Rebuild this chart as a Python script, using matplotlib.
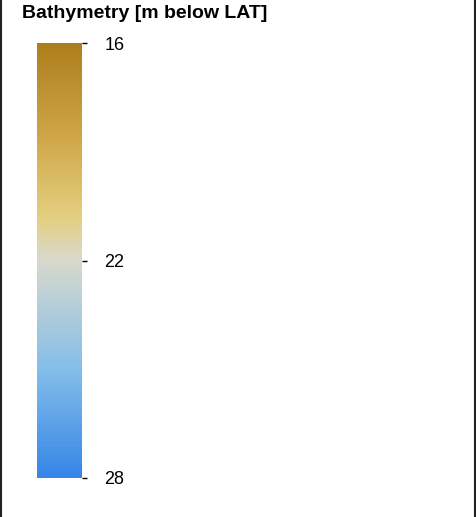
import numpy as np
import matplotlib
matplotlib.use("Agg")
from matplotlib import pyplot as plt
from matplotlib.colors import LinearSegmentedColormap, Normalize
from matplotlib.cm import ScalarMappable
from matplotlib.lines import Line2D

# legend content
title = "Bathymetry [m below LAT]"
depth_min, depth_max = 16, 28
tick_values = [16, 22, 28]
stop_positions = [0.0, 0.2, 0.4, 0.5, 0.75, 1.0]
stop_colors = ["#ad7e1c", "#cda344", "#e3cf80", "#d8d9cd", "#84bee9", "#3585e8"]

plt.rcParams['font.family'] = ['Liberation Sans', 'DejaVu Sans']

W, H = 477, 517
fig = plt.figure(figsize=(W / 100, H / 100), dpi=100)

# colour bar (shallow at top, deep at bottom)
cmap = LinearSegmentedColormap.from_list("bathy", list(zip(stop_positions, stop_colors)))
cax = fig.add_axes([37 / W, 1 - 478 / H, 45 / W, 435 / H])
sm = ScalarMappable(norm=Normalize(depth_min, depth_max), cmap=cmap)
cb = fig.colorbar(sm, cax=cax, ticks=tick_values)
cb.outline.set_visible(False)
cax.invert_yaxis()
cax.tick_params(axis='y', direction='out', length=3.6, width=1, pad=12.5,
                labelsize=13, colors='black')

fig.text(22 / W, 1 - 18.3 / H, title, fontsize=14, fontweight='bold',
         va='baseline', ha='left')

# frame lines on the left and right
for xp in (0.8 / W, 475.5 / W):
    fig.add_artist(Line2D([xp, xp], [0, 1], transform=fig.transFigure,
                          color='#222222', linewidth=1.5))

fig.savefig("out.png", dpi=100)
